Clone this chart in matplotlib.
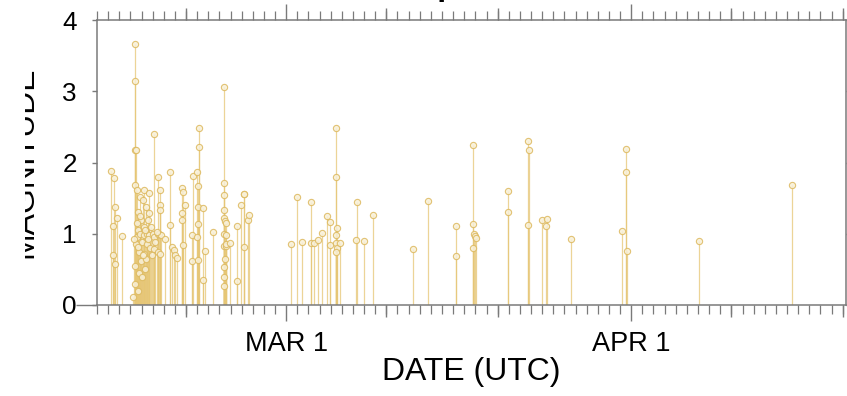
"""
Earthquake magnitude timeline (stem plot), Feb - Apr 2023
"""

import numpy as np
import matplotlib
matplotlib.use('Agg')
import matplotlib.pyplot as plt
import matplotlib.dates as mdates
from matplotlib import font_manager
from matplotlib.patches import Rectangle

# event time as days after 2023-02-12 00:00 UTC, and magnitude
quake_day = [
    1.23, 1.53, 1.65, 1.77, 1.40, 1.46, 1.62, 2.22, 3.21,
    3.45, 3.45, 3.45, 3.52, 3.45, 3.48, 3.40, 3.42,
    3.60, 3.65, 3.70, 3.62, 3.75, 3.80, 3.70,
    3.90, 3.95, 3.85, 4.00, 3.92, 4.05,
    4.13, 4.20, 4.25, 4.18, 4.30,
    4.22, 4.40, 4.45, 4.50, 4.38,
    4.67, 4.67, 4.60, 4.70, 4.75,
    5.09, 5.00, 5.09, 5.15,
    5.45, 5.66, 5.66, 5.66, 5.45, 5.55, 5.75, 5.50, 5.70,
    3.33, 3.56, 3.68, 3.88, 4.10, 4.35, 4.55, 4.85, 4.95, 5.25, 5.35,
    6.11, 6.56, 6.56, 6.71, 6.90, 7.00, 7.20,
    7.61, 7.75, 7.91, 7.61, 7.61, 7.70,
    8.56, 8.56, 8.65, 9.01, 9.16, 9.16, 9.10, 9.05, 9.10, 8.95, 9.10,
    9.55, 9.70, 9.50, 10.40,
    11.44, 11.44, 11.44, 11.44, 11.40, 11.50, 11.60, 11.40, 11.55,
    11.40, 11.55, 11.60, 11.40, 11.45, 11.45, 11.50,
    11.95, 12.55, 12.55, 12.94, 13.18, 13.21, 13.21, 13.54, 13.68,
    17.43, 17.94, 18.39, 19.20, 19.20, 19.50, 19.88, 20.24, 20.64,
    20.93, 20.93, 21.45, 21.45, 21.56, 21.50, 21.45, 21.55, 21.50, 21.83,
    23.24, 23.33, 24.02, 24.82,
    28.42, 29.77, 32.23, 32.23,
    33.81, 33.81, 33.85, 33.96, 34.05, 33.81,
    36.95, 36.95, 38.75, 38.78, 38.75,
    39.95, 40.31, 40.46, 42.56,
    47.14, 47.53, 47.53, 47.65, 54.09, 62.47,
]
quake_mag = [
    1.88, 1.78, 1.38, 1.22, 1.11, 0.70, 0.58, 0.97, 0.11,
    3.66, 3.14, 2.17, 2.17, 1.68, 0.85, 0.55, 0.30,
    1.61, 1.30, 1.05, 0.95, 0.75, 0.45, 0.20,
    1.52, 1.20, 1.00, 0.88, 0.62, 0.40,
    1.47, 1.10, 0.98, 0.72, 0.50,
    1.61, 1.38, 1.00, 0.85, 0.65,
    1.57, 1.29, 1.20, 0.98, 0.80,
    2.40, 1.00, 0.95, 0.78,
    1.79, 1.61, 1.40, 1.33, 1.00, 1.00, 0.98, 0.75, 0.72,
    0.92, 1.15, 0.82, 1.25, 0.70, 1.05, 0.92, 1.10, 0.70, 0.88, 1.02,
    0.92, 1.87, 1.12, 0.82, 0.77, 0.70, 0.66,
    1.64, 1.58, 1.40, 1.29, 1.19, 0.84,
    0.98, 0.62, 1.81, 1.86, 2.49, 2.22, 1.67, 1.38, 1.14, 0.95, 0.63,
    1.36, 0.76, 0.35, 1.03,
    3.06, 1.71, 1.54, 1.33, 1.22, 1.18, 1.15, 1.00, 0.98,
    0.83, 0.83, 0.85, 0.53, 0.39, 0.27, 0.65,
    0.87, 1.11, 0.34, 1.41, 1.56, 1.56, 0.81, 1.19, 1.26,
    0.85, 1.51, 0.88, 1.44, 0.87, 0.87, 0.91, 1.01, 1.25,
    1.17, 0.84, 2.49, 1.79, 1.08, 0.98, 0.87, 0.80, 0.75, 0.87,
    0.91, 1.44, 0.90, 1.27,
    0.78, 1.46, 1.11, 0.69,
    2.24, 1.13, 1.00, 0.97, 0.94, 0.80,
    1.60, 1.31, 2.30, 2.18, 1.12,
    1.20, 1.11, 1.21, 0.92,
    1.04, 2.19, 1.86, 0.76, 0.90, 1.68,
]
y_ticks = [0, 1, 2, 3, 4]

# narrow sans if available (looks closest to the condensed original)
names = {f.name for f in font_manager.fontManager.ttflist}
if 'Liberation Sans Narrow' in names:
    FONT = ['Liberation Sans Narrow', 'DejaVu Sans']
    scale = 1.0
else:
    FONT = ['Liberation Sans', 'DejaVu Sans']
    scale = 0.85
plt.rcParams['font.family'] = FONT

START = np.datetime64('2023-02-12T00:00')
minutes = (np.array(quake_day) * 24 * 60).round().astype('timedelta64[m]')
dates = START + minutes
mags = np.array(quake_mag)

STEM = '#E6C675'
EDGE = '#DDB95E'
FACE = '#F8F0D8'
AXC = '#7a7a7a'

fig = plt.figure(figsize=(8.47, 3.96), dpi=100)
ax = fig.add_axes([97 / 847, 91 / 396, 749 / 847, 285 / 396])

ax.vlines(dates, 0, mags, color=STEM, lw=0.9, alpha=0.75, zorder=2)
ax.plot(dates, mags, 'o', ms=4.5, mfc=FACE, mec=EDGE, mew=0.8,
        alpha=0.85, zorder=3)

ax.set_ylim(0, 4)
ax.set_xlim(START, START + np.timedelta64(int(67.3 * 24 * 60), 'm'))
ax.set_yticks(y_ticks)

ax.xaxis.set_major_locator(mdates.MonthLocator(bymonthday=1))
ax.xaxis.set_major_formatter(
    plt.FuncFormatter(lambda v, p: mdates.num2date(v).strftime('%b 1').upper()))
ax.xaxis.set_minor_locator(mdates.DayLocator())

for s in ax.spines.values():
    s.set_color(AXC)
    s.set_linewidth(1.1)

ax.tick_params(axis='x', which='major', direction='out', length=11.5, width=1,
               color=AXC, top=True, pad=7, labelsize=23 * scale)
ax.tick_params(axis='x', which='minor', direction='out', length=6.5, width=0.9,
               color=AXC, top=True)
ax.tick_params(axis='y', which='major', direction='out', length=3.6, width=1,
               color=AXC, right=True, pad=11, labelsize=22 * scale)

# 10th / 20th of month: medium ticks on top and bottom
for loc in ('bottom', 'top'):
    sec = ax.secondary_xaxis(loc)
    sec.xaxis.set_major_locator(mdates.DayLocator(bymonthday=[10, 20]))
    sec.tick_params(length=8.6, width=1, color=AXC, labelbottom=False,
                    labeltop=False)
    sec.spines[loc].set_visible(False)

# long tick at zero on the left
sec_y = ax.secondary_yaxis('left')
sec_y.set_yticks([0])
sec_y.tick_params(length=15, width=1, color=AXC, labelleft=False)
sec_y.spines['left'].set_visible(False)

ax.set_xlabel('DATE (UTC)', fontsize=27 * scale, labelpad=0)

# y label, partly hidden at the left edge as in the original
fig.text(39 / 847, (396 - 162) / 396, 'MAGNITUDE',
         rotation=90, ha='right', va='center', fontsize=27 * scale)
fig.add_artist(Rectangle((0, 0), 25 / 847, 1, transform=fig.transFigure,
                         facecolor='white', edgecolor='none', zorder=10))

# title sits mostly above the visible frame
fig.text(438 / 847, 1.012, 'Swarm Depths, 2023', ha='center', va='baseline',
         fontsize=27 * scale, fontweight='bold')

fig.savefig('out.png', dpi=100)
